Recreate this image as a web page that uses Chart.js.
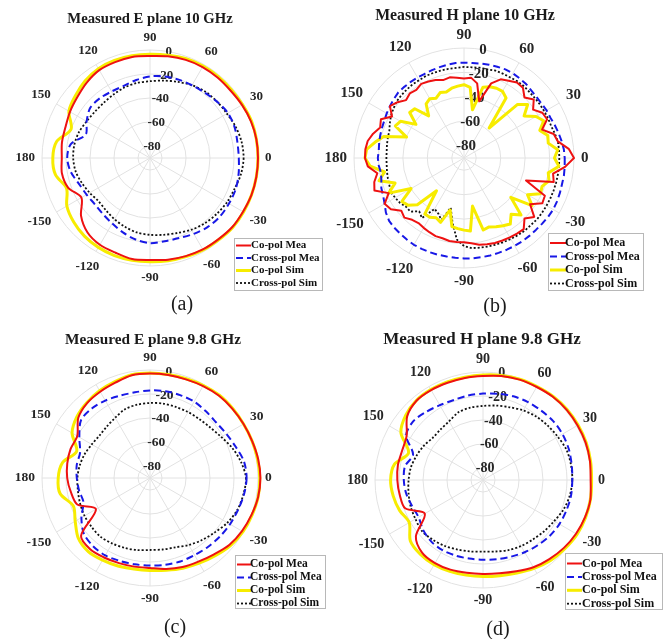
<!DOCTYPE html>
<html>
<head>
<meta charset="utf-8">
<script src="https://cdn.jsdelivr.net/npm/chart.js@4.4.1/dist/chart.umd.min.js"></script>
<style>
  body { margin: 0; background: #fff; width: 670px; height: 639px; position: relative; overflow: hidden; font-family: "Liberation Serif", "Times New Roman", serif; color: #1a1a1a; }
  .panel { position: absolute; width: 355px; height: 320px; }
  .panel canvas { position: absolute; left: 0; top: 0; }
  .title { position: absolute; font-weight: bold; white-space: nowrap; transform: translate(-50%, -50%); }
  .cap { position: absolute; font-size: 20px; white-space: nowrap; transform: translate(-50%, -50%); }
</style>
</head>
<body>
<!-- each canvas starts 20px left of its quadrant so that outer labels are not cut -->
<div class="panel" style="left:-20px;top:0"><canvas id="pa" width="355" height="320"></canvas></div>
<div class="panel" style="left:315px;top:0"><canvas id="pb" width="355" height="320"></canvas></div>
<div class="panel" style="left:-20px;top:320px"><canvas id="pc" width="355" height="320"></canvas></div>
<div class="panel" style="left:315px;top:320px"><canvas id="pd" width="355" height="320"></canvas></div>

<div class="title" style="left:150px;top:18px;font-size:14.7px">Measured E plane 10 GHz</div>
<div class="title" style="left:465px;top:15px;font-size:15.8px">Measured H plane 10 GHz</div>
<div class="title" style="left:153px;top:339px;font-size:15.3px">Measured E plane 9.8 GHz</div>
<div class="title" style="left:482px;top:339px;font-size:17px">Measured H plane 9.8 GHz</div>

<div class="cap" style="left:182px;top:303px">(a)</div>
<div class="cap" style="left:495px;top:305px">(b)</div>
<div class="cap" style="left:175px;top:626px">(c)</div>
<div class="cap" style="left:498px;top:628px">(d)</div>

<script>
// angles in degrees, counter-clockwise from 0 (right)
const THETA_10 = [0, 10, 20, 30, 40, 50, 60, 70, 80, 90, 100, 110, 120, 130, 140, 150, 160, 170,
  180, 190, 200, 210, 220, 230, 240, 250, 260, 270, 280, 290, 300, 310, 320, 330, 340, 350];
const THETA_5 = [0, 5, 10, 15, 20, 25, 30, 35, 40, 45, 50, 55, 60, 65, 70, 75, 80, 85,
  90, 95, 100, 105, 110, 115, 120, 125, 130, 135, 140, 145, 150, 155, 160, 165, 170, 175,
  180, 185, 190, 195, 200, 205, 210, 215, 220, 225, 230, 235, 240, 245, 250, 255, 260, 265,
  270, 275, 280, 285, 290, 295, 300, 305, 310, 315, 320, 325, 330, 335, 340, 345, 350, 355];
const THETA_TICKS = [0, 30, 60, 90, 120, 150, 180, -150, -120, -90, -60, -30];
const R_TICKS = [-80, -60, -40, -20, 0];
const SERIES = ['Co-pol Mea', 'Cross-pol Mea', 'Co-pol Sim', 'Cross-pol Sim'];

// (a) E plane 10 GHz, dB at THETA_10
const E10_CO_MEA = [0, 0, -0.5, -1.5, -2.5, -2.5, -2.5, -3, -4, -5, -4.5, -5, -5.5, -8, -11, -13, -15, -15.5,
  -16.5, -15.5, -17.5, -24, -15, -9, -6.5, -6, -4.5, -5, -4, -3, -2, -1.5, -0.5, -0.5, 0, 0];
const E10_X_MEA = [-16, -16, -15, -15, -17, -19, -20, -20.5, -21, -22, -24, -26, -26, -25, -25, -29, -33, -23,
  -21, -23, -27, -29, -30, -29, -27, -24, -21, -19, -19.5, -19, -17, -15, -14, -14, -14, -15];
const E10_CO_SIM = [0, 0, 0, -1, -1.5, -1.5, -1.5, -2, -3, -3.5, -3.5, -3.5, -4, -6, -9, -12, -20, -11,
  -9, -10, -16, -10, -7, -5, -4, -3.5, -3.5, -3.5, -3, -2.5, -1.5, -1, 0, 0, 0, 0];
const E10_X_SIM = [-12, -12.5, -14, -16, -17, -18, -20, -22.5, -24.5, -26, -26.5, -27.5, -29, -30, -30, -29, -27, -26,
  -26, -27, -29.5, -32, -34, -33, -31, -29, -27, -26, -25, -23.5, -21, -19, -17.5, -16, -15, -13];

// (b) H plane 10 GHz, dB at THETA_5
const H10_CO_MEA = [0, -4, -12, -14, -22, -15, -16, -21, -15.5, -20, -15, -14.5, -17, -19, -25, -42, -28, -24,
  -25, -24, -23, -24, -22, -21, -20, -22, -21, -23, -19, -16, -22, -15, -17, -13, -10, -9,
  -9, -11, -18, -14, -12, -22, -15, -17, -23, -21, -24, -25, -24, -23, -22, -22, -21, -21,
  -21, -20, -18, -17, -16, -15.5, -15, -14.5, -14, -20, -15, -24, -16, -17, -36, -14, -16, -7];
const H10_X_MEA = [-7.6, -8, -9, -10, -11, -12, -12, -12.5, -12.5, -12, -11, -10.5, -10, -10, -10.5, -11, -11.5, -12,
  -12, -12, -12.5, -13, -13.5, -14, -14, -14, -14, -14, -15, -16, -17, -18, -18.5, -19, -19.5, -20,
  -19.5, -20, -21, -20, -18, -17, -15, -12, -10, -9.3, -9, -8.5, -8, -8, -8, -8, -8.2, -8,
  -7.8, -7.6, -7.6, -7.4, -7.4, -7.2, -7, -6.8, -6.8, -6.8, -6.5, -6, -5.7, -6, -6.5, -7, -7, -7.3];
const H10_CO_SIM = [-16, -13, -20, -19, -24, -18, -22, -30, -22, -28, -58, -30, -27, -27, -28, -30, -50, -32,
  -30, -31, -32, -34, -33, -36, -34, -36, -45, -33, -32, -42, -30, -28, -40, -22, -16, -10,
  -9, -13, -24, -18, -30, -22, -40, -28, -30, -36, -55, -34, -34, -36, -34, -46, -33, -32,
  -31, -30, -50, -29, -30, -28, -26, -24, -30, -24, -40, -22, -30, -21, -22, -18, -20, -12];
const H10_X_SIM = [-12, -12, -12, -13, -14, -14, -14, -14, -14, -14, -13.5, -13.5, -14, -14, -14, -15, -15, -15.5,
  -15.5, -16, -16, -16, -16, -16, -16.5, -16.5, -17, -17.5, -18, -19.5, -21, -23, -25, -25.5, -26, -26.5,
  -26.5, -26.5, -26, -25.5, -25, -24, -25, -26, -28, -28, -33, -30, -42, -40, -36, -48, -36, -23,
  -18, -16, -15.5, -15, -14.5, -14, -13.5, -13, -12.5, -12.5, -12, -12, -12, -12, -12, -12, -12, -12];

// (c) E plane 9.8 GHz, dB at THETA_10
const E98_CO_MEA = [2, 1.5, 0.5, 0, -0.3, -0.5, -1.5, -2.5, -2.8, -3, -3, -5.5, -7, -8.5, -12, -20, -19.5, -20,
  -21, -23, -25.5, -38, -15, -12.5, -13.5, -14.5, -15, -15, -13, -11, -9.5, -7, -3.5, -1.5, 0, 1.5];
const E98_X_MEA = [-9.5, -10.5, -14, -16.5, -18, -17.5, -16.5, -16.5, -16.5, -17, -17.5, -17, -15.5, -14.5, -15, -22, -28, -28,
  -29, -30, -31, -24, -18, -16, -15.5, -16.5, -17, -17, -16.5, -16, -15.8, -15, -14, -13, -12, -10.5];
const E98_CO_SIM = [1.5, 1, 0.5, 0, 0, 0, -1, -2, -2.5, -2.5, -2.5, -4.5, -6, -8, -10.5, -15, -25, -16,
  -13.5, -14, -22, -18, -12, -10, -11, -12, -13, -13, -12, -10, -8, -5.5, -2.5, -0.5, 0.5, 1.5];
const E98_X_SIM = [-10, -13, -17, -21.5, -24.5, -26, -26.5, -27, -27, -27.5, -28, -29, -32, -34, -35, -34, -32, -30.5,
  -29.5, -29, -28, -27, -26.5, -26, -27, -28, -29, -30, -29.5, -28.5, -25.5, -22.5, -19.5, -15.5, -12.5, -11];

// (d) H plane 9.8 GHz, dB at THETA_10
const H98_CO_MEA = [-0.3, 0.5, 1, 1, 1, 0.5, -0.5, -1, -2, -3.3, -3.6, -3.8, -3.5, -3.8, -7.5, -16.5, -18.3, -18,
  -18.6, -19.5, -21, -34, -17, -11, -10, -10.5, -11.5, -11.7, -11, -9, -6, -4, -2, -0.5, 0.5, 1];
const H98_X_MEA = [-15.6, -15, -14, -13.5, -13.6, -14.5, -15, -15.8, -17, -18, -18.5, -19, -18, -16, -14, -16, -28, -24,
  -24, -25, -27, -28, -25, -23, -22.5, -23, -23.5, -23.5, -23, -22, -20.5, -19, -17.5, -16.5, -16, -15.5];
const H98_CO_SIM = [0.5, 1, 1.5, 1.5, 1.5, 1, 0, -0.5, -1.5, -2.5, -3, -3, -3, -3.5, -6, -11, -24, -15,
  -13, -14, -16, -19, -11, -9, -8.5, -9, -9.5, -9.5, -9, -7.5, -5, -2.5, -1, 0.5, 1, 1];
const H98_X_SIM = [-15.6, -15.6, -16, -18, -19.5, -21, -23, -25.5, -27, -28.3, -28.8, -30, -33.5, -35, -35.3, -33, -31, -29,
  -28, -27, -25.8, -25, -23.7, -25, -26.5, -28.3, -29.5, -30.3, -29.5, -27.8, -26.5, -25.3, -23.5, -21.5, -18.5, -16.5];

const STYLES = [
  { borderColor: '#ee1111', borderWidth: 2 },
  { borderColor: '#1818e6', borderWidth: 2, borderDash: [7, 4] },
  { borderColor: '#f7ec00', borderWidth: 3 },
  { borderColor: '#111111', borderWidth: 1.8, borderDash: [2, 2] }
];

// canvases are shifted 20px to the left of their quadrant
const SHIFT = 20;

// tick labels of the polar axes, placed from the r scale
const polarDeco = {
  id: 'polarDeco',
  beforeDatasetsDraw(chart, args, o) {
    const s = chart.scales.r;
    const ctx = chart.ctx;
    ctx.save();
    ctx.font = 'bold ' + o.size + 'px "Liberation Serif"';
    ctx.fillStyle = '#262626';
    ctx.textAlign = 'center';
    ctx.textBaseline = 'middle';
    const h = o.size * 0.75;
    THETA_TICKS.forEach(t => {
      const a = t * Math.PI / 180;
      const txt = String(t);
      const w = ctx.measureText(txt).width;
      const d = s.drawingArea + o.gap + Math.abs(Math.cos(a)) * w / 2 + Math.abs(Math.sin(a)) * h / 2;
      ctx.fillText(txt, s.xCenter + d * Math.cos(a), s.yCenter - d * Math.sin(a));
    });
    const ra = 80 * Math.PI / 180;
    R_TICKS.forEach(v => {
      const d = s.getDistanceFromCenterForValue(v);
      ctx.fillText(String(v), s.xCenter + d * Math.cos(ra), s.yCenter - d * Math.sin(ra));
    });
    ctx.restore();
  }
};

const boxLegend = {
  id: 'boxLegend',
  afterDraw(chart, args, o) {
    const ctx = chart.ctx;
    const x0 = o.x + SHIFT;
    ctx.save();
    ctx.fillStyle = '#ffffff';
    ctx.fillRect(x0, o.y, o.w, o.h);
    ctx.strokeStyle = '#b8b8b8';
    ctx.lineWidth = 1;
    ctx.strokeRect(x0 + 0.5, o.y + 0.5, o.w, o.h);
    ctx.font = 'bold ' + o.size + 'px "Liberation Serif"';
    ctx.textBaseline = 'middle';
    ctx.textAlign = 'left';
    chart.data.datasets.forEach((ds, i) => {
      const y = o.y + o.top + i * o.step;
      ctx.strokeStyle = ds.borderColor;
      ctx.lineWidth = ds.borderWidth;
      ctx.setLineDash(ds.borderDash || []);
      ctx.beginPath();
      ctx.moveTo(x0 + 2, y);
      ctx.lineTo(x0 + 2 + o.line, y);
      ctx.stroke();
      ctx.setLineDash([]);
      ctx.fillStyle = '#111';
      ctx.fillText(ds.label, x0 + o.text, y);
    });
    ctx.restore();
  }
};

function polarChart(id, theta, series, cfg) {
  const n = theta.length;
  // radar runs clockwise from startAngle: index i sits at theta = -i*step
  const order = theta.map((_, i) => (n - i) % n);
  const labels = order.map(k => theta[k]);
  const pad = {
    left: cfg.cx + SHIFT - cfg.R, top: cfg.cy - cfg.R,
    right: 335 - cfg.cx - cfg.R, bottom: 320 - cfg.cy - cfg.R
  };
  return new Chart(document.getElementById(id), {
    type: 'radar',
    data: {
      labels: labels,
      datasets: series.map((s, j) => Object.assign({
        label: SERIES[j],
        data: order.map(k => s[k]),
        fill: false,
        pointRadius: 0,
        borderJoinStyle: 'round',
        tension: cfg.tension
      }, STYLES[j]))
    },
    options: {
      responsive: false,
      animation: false,
      events: [],
      layout: { padding: pad },
      plugins: {
        legend: { display: false },
        tooltip: { enabled: false },
        polarDeco: { size: cfg.font, gap: cfg.gap },
        boxLegend: cfg.legend
      },
      scales: {
        r: {
          min: -90,
          max: 0,
          startAngle: 90,
          ticks: { display: false, stepSize: 10 },
          afterBuildTicks: sc => { sc.ticks = R_TICKS.map(v => ({ value: v })); },
          grid: { circular: true, color: '#e2e2e2', lineWidth: 1 },
          angleLines: {
            display: true,
            color: '#e2e2e2',
            lineWidth: c => (labels[c.index] % 30 === 0 ? 1 : 0)
          },
          pointLabels: { display: false }
        }
      }
    },
    plugins: [polarDeco, boxLegend]
  });
}

polarChart('pa', THETA_10, [E10_CO_MEA, E10_X_MEA, E10_CO_SIM, E10_X_SIM], {
  cx: 150, cy: 158, R: 108, tension: 0.3, font: 13, gap: 7,
  legend: { x: 234, y: 238, w: 88, h: 52, size: 11, top: 7.5, step: 12.5, line: 15, text: 17 }
});
polarChart('pb', THETA_5, [H10_CO_MEA, H10_X_MEA, H10_CO_SIM, H10_X_SIM], {
  cx: 129, cy: 158, R: 110, tension: 0, font: 15, gap: 7,
  legend: { x: 213, y: 233, w: 95, h: 57, size: 12, top: 10, step: 13.5, line: 16, text: 17 }
});
polarChart('pc', THETA_10, [E98_CO_MEA, E98_X_MEA, E98_CO_SIM, E98_X_SIM], {
  cx: 150, cy: 158, R: 108, tension: 0.3, font: 13.5, gap: 7,
  legend: { x: 235, y: 235, w: 90, h: 53, size: 11.5, top: 9.5, step: 13, line: 14, text: 15 }
});
polarChart('pd', THETA_10, [H98_CO_MEA, H98_X_MEA, H98_CO_SIM, H98_X_SIM], {
  cx: 148, cy: 160, R: 108, tension: 0.3, font: 14, gap: 7,
  legend: { x: 230, y: 233, w: 97, h: 56, size: 12, top: 10.5, step: 13.4, line: 15, text: 17 }
});
</script>
</body>
</html>
